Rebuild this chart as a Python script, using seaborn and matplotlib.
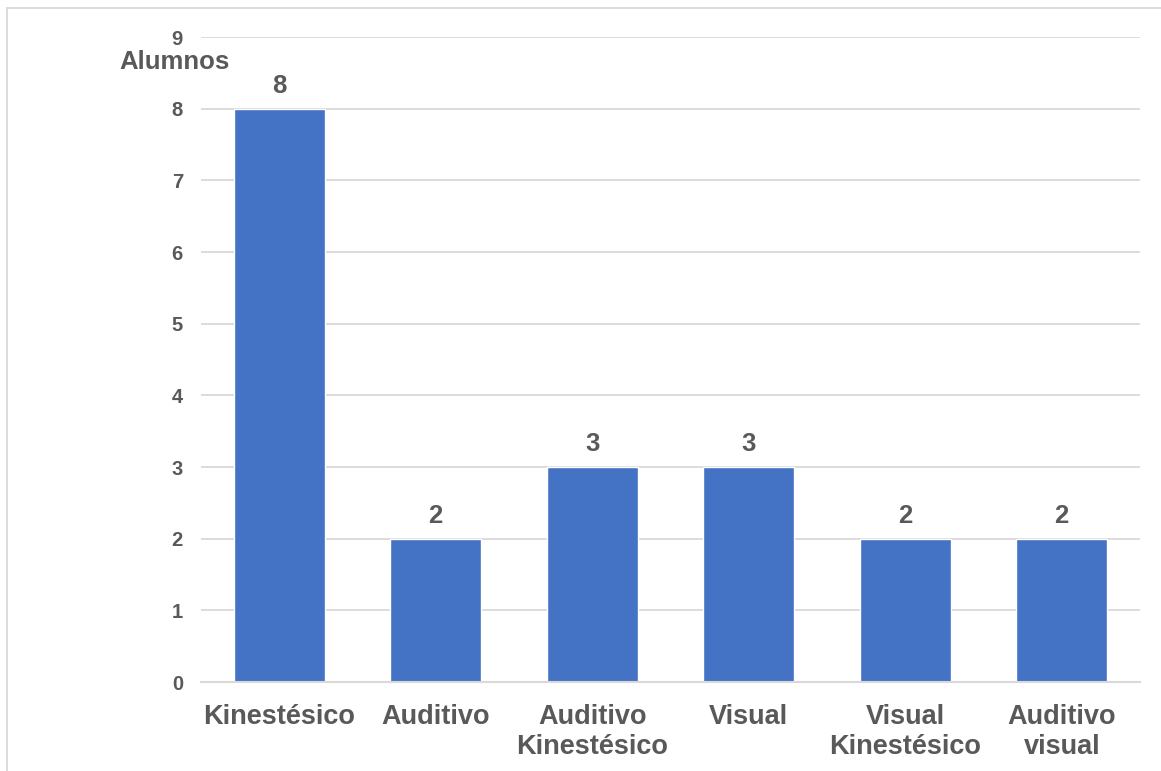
import pandas as pd
import matplotlib.pyplot as plt
import seaborn as sns

# Datos
estilos = ['Kinestésico', 'Auditivo', 'Auditivo\nKinestésico', 'Visual',
           'Visual\nKinestésico', 'Auditivo\nvisual']
alumnos = [8, 2, 3, 3, 2, 2]
ticks_y = list(range(0, 10))

df = pd.DataFrame({'Estilo': estilos, 'Alumnos': alumnos})

sns.set_style('white')
plt.rcParams['font.family'] = ['Liberation Sans', 'DejaVu Sans']
plt.rcParams['font.weight'] = 'bold'

gris = '#595959'
fig = plt.figure(figsize=(11.61, 7.71), dpi=100)
ax = fig.add_axes([0.1731, 0.1154, 0.8088, 0.8366])

sns.barplot(data=df, x='Estilo', y='Alumnos', color='#4472C4', width=0.58,
            saturation=1, ax=ax)

ax.set_xlim(-0.5, len(estilos) - 0.5)
ax.set_ylim(0, 9)
ax.set_yticks(ticks_y)
ax.grid(axis='y', color='#D9D9D9', linewidth=1.3)
ax.set_axisbelow(True)
for lado in ['top', 'right', 'left']:
    ax.spines[lado].set_visible(False)
ax.spines['bottom'].set_color('#D9D9D9')
ax.spines['bottom'].set_linewidth(1.5)

ax.tick_params(axis='y', length=0, pad=13, labelsize=14.5, labelcolor=gris)
ax.tick_params(axis='x', length=0, pad=16, labelsize=19.5, labelcolor=gris)
for t in ax.get_xticklabels() + ax.get_yticklabels():
    t.set_fontweight('bold')
for t in ax.get_xticklabels():
    t.set_linespacing(1.2)
ax.set_xlabel('')
ax.set_ylabel('')

# Etiquetas de valor
for barra in ax.containers[0]:
    ax.annotate('{}'.format(int(barra.get_height())),
                xy=(barra.get_x() + barra.get_width() / 2, barra.get_height()),
                xytext=(0, 8), textcoords='offset points',
                ha='center', va='bottom', fontsize=18.5, fontweight='bold', color=gris)

# Titulo del eje
fig.text(174 / 1161, 1 - 62 / 771, 'Alumnos', ha='center', va='center',
         fontsize=18.5, fontweight='bold', color=gris)

# Marco del grafico
fig.add_artist(plt.Line2D([7 / 1161, 7 / 1161], [0, 1 - 8 / 771],
                          color='#D9D9D9', linewidth=1.3))
fig.add_artist(plt.Line2D([7 / 1161, 1], [1 - 8 / 771, 1 - 8 / 771],
                          color='#D9D9D9', linewidth=1.3))

fig.savefig('out.png', dpi=100)
